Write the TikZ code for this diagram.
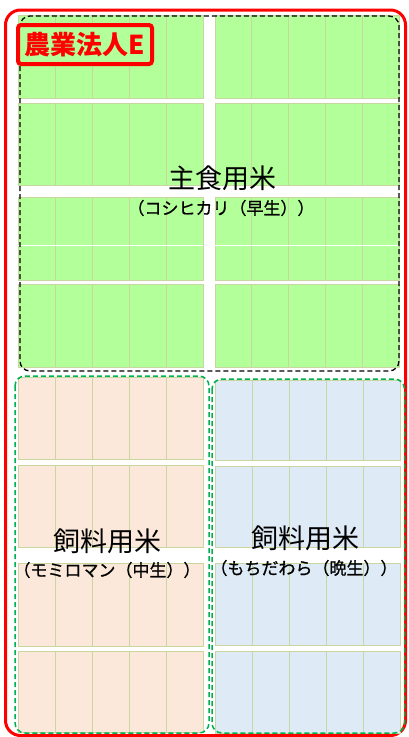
\documentclass[tikz,border=0pt]{standalone}
\usepackage{fontspec}
\newfontfamily\cjk{Noto Sans CJK JP}
\newfontfamily\cjksub[FakeBold=0.8]{Noto Sans CJK JP}
\definecolor{tilegreen}{HTML}{B3FF99}
\definecolor{tilepeach}{HTML}{FBE8DA}
\definecolor{tileblue}{HTML}{DEEAF6}
\definecolor{tileline}{HTML}{C8D79F}
\definecolor{dashgreen}{HTML}{00B050}
\newcommand\tilerow[5]{%
  \fill[#5] (#1,#2) rectangle (#3,#4);
  \pgfmathsetmacro\tilew{(#3-#1)/5}
  \foreach \k in {1,...,4} {\draw[tileline, line width=1pt] ({#1+\k*\tilew},#2) -- ({#1+\k*\tilew},#4);}
  \draw[tileline, line width=1pt] (#1,#2) rectangle (#3,#4);
}
\tikzset{
  fieldbox/.style={line width=1.3pt, dash pattern=on 5pt off 3pt, rounded corners=10pt},
  maintext/.style={inner sep=0pt, font=\cjk\fontsize{27}{27}\selectfont},
  subtext/.style={inner sep=0pt, font=\cjksub\fontsize{17}{17}\selectfont},
}
\begin{document}
\begin{tikzpicture}[x=1pt,y=-1pt]
\useasboundingbox (0,0) rectangle (408,737);
% outer red frame
\draw[red, line width=3pt, rounded corners=15pt] (5.5,10) rectangle (405.5,735.5);
% top field (green)
\foreach \ya/\yb in {15/98,103/185,197/280,284/367} {
  \tilerow{18}{\ya}{203}{\yb}{tilegreen}
  \tilerow{215}{\ya}{399}{\yb}{tilegreen}
}
\draw[white, line width=0.8pt] (18,245) -- (203,245);
\draw[white, line width=0.8pt] (215,245) -- (399,245);
\draw[fieldbox, black] (20,16) rectangle (399,371);
% bottom left (peach)
\foreach \ya/\yb in {377/459,465/547,563/646,651/732} {
  \tilerow{18}{\ya}{203}{\yb}{tilepeach}
}
\draw[fieldbox, dashgreen, line width=1.5pt] (15,376) rectangle (209,733);
% bottom right (blue)
\foreach \ya/\yb in {380/460,466/547,563/645,651/733} {
  \tilerow{215}{\ya}{400}{\yb}{tileblue}
}
\draw[fieldbox, dashgreen, line width=1.5pt] (212,379) rectangle (404.5,733);
% label
\node[draw=red, line width=4pt, rounded corners=3pt, fill=tilegreen, minimum width=134pt, minimum height=39pt, inner sep=0pt, text=red, font=\cjk\bfseries\fontsize{26}{26}\selectfont] (lbl) at (85,44.5) {農業法人E};
% texts
\node[maintext] (t1) at (222,178.5) {主食用米};
\node[subtext] (s1) at (221,208) {（コシヒカリ（早生））};
\node[maintext] (t2) at (107,541) {飼料用米};
\node[subtext] (s2) at (107,570) {（モミロマン（中生））};
\node[maintext] (t3) at (305,538) {飼料用米};
\node[subtext] (s3) at (304,568) {（もちだわら（晩生））};
\end{tikzpicture}
\end{document}
